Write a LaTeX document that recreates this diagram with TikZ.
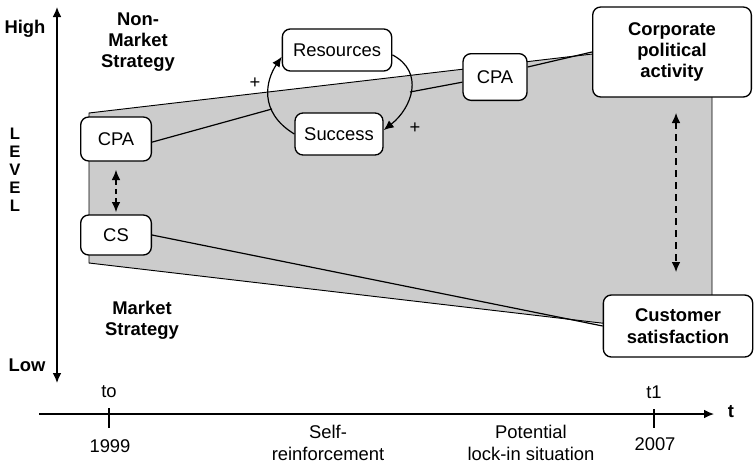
\documentclass[tikz,border=0pt]{standalone}
\usepackage{fontspec}
\setmainfont{Liberation Sans}
\usetikzlibrary{arrows.meta}

\begin{document}
\begin{tikzpicture}[x=0.75pt, y=-0.75pt, >={Latex[length=7.5pt,width=6.5pt]},
    box/.style={draw=black, line width=1pt, rounded corners=6pt, fill=white, align=center, inner sep=1pt, font=\fontsize{13.8}{16}\selectfont},
    axistext/.style={align=center, inner sep=0pt, font=\fontsize{13.8}{16}\selectfont},
    boldtext/.style={align=center, inner sep=0pt, font=\bfseries\fontsize{13.8}{16}\selectfont}]
        \useasboundingbox (0,0) rectangle (755,464);

        % Strategy band
        \draw[line width=0.7pt, fill=black!20] (89,113) -- (712,40) -- (712,336) -- (89,263) -- cycle;

        % Level axis
        \node[boldtext] (high) at (25,29) {High};
        \node[boldtext] (low) at (27,365) {Low};
        \node[boldtext, font=\bfseries\fontsize{12.5}{13.5}\selectfont] (level) at (15,170) {L\\E\\V\\E\\L};
        \coordinate (ytop) at (57,7);
        \coordinate (ybot) at (57,383);
        \draw[<->, line width=0.9pt] (ybot) -- (ytop);
        \node[boldtext] (nonmarket) at (138,42) {Non-\\Market\\Strategy};
        \node[boldtext] (market) at (142,320) {Market\\Strategy};

        % Time axis
        \coordinate (xstart) at (39,414);
        \coordinate (xend) at (714,414);
        \draw[->, line width=0.9pt] (xstart) -- (xend);
        \node[boldtext] (t) at (731,412) {t};
        \draw[line width=0.9pt] (109,408) -- (109,428);
        \draw[line width=0.9pt] (654,409) -- (654,428);
        \node[axistext] (t0) at (109,392) {to};
        \node[axistext] (t1) at (654,392) {t1};
        \node[axistext] (y0) at (110,446) {1999};
        \node[axistext] (y1) at (655,444) {2007};
        \node[axistext] (selfreinf) at (328,443) {Self-\\reinforcement};
        \node[axistext] (lockin) at (531,443) {Potential\\lock-in situation};

        % Boxes in 1999
        \node[box, minimum width=53pt, minimum height=33pt] (cpa0) at (116,139) {CPA};
        \node[box, minimum width=53pt, minimum height=30pt] (cs0) at (116,235) {CS};
        \draw[<->, dashed, dash pattern=on 4pt off 3pt, line width=0.8pt] (116,170) -- (116,212);

        % Self-reinforcing loop
        \node[box, minimum width=82pt, minimum height=31.5pt] (res) at (337,50) {Resources};
        \node[box, minimum width=66pt, minimum height=31.5pt] (suc) at (339,134) {Success};
        \draw[->, line width=0.9pt] (suc.west) .. controls (258,112) and (266,80) .. (res.187);
        \draw[->, line width=0.9pt] (res.355) .. controls (425,72) and (412,108) .. (suc.5);
        \node[axistext] (plus1) at (255,83) {+};
        \node[axistext] (plus2) at (415,128) {+};

        % Boxes in 2007
        \node[box, minimum width=48pt, minimum height=35pt] (cpa1) at (495,77) {CPA};
        \node[box, font=\bfseries\fontsize{13.8}{16}\selectfont, minimum width=119pt, minimum height=67.5pt] (cpa2) at (672,52) {Corporate\\political\\activity};
        \node[box, font=\bfseries\fontsize{13.8}{16}\selectfont, minimum width=112pt, minimum height=46.5pt] (cs1) at (678,326) {Customer\\satisfaction};
        \draw[<->, dashed, dash pattern=on 5pt off 4pt, line width=0.8pt] (676,113) -- (676,272);

        % Paths of CPA and CS
        \coordinate (loopl) at (272,109);
        \coordinate (loopr) at (410,92);
        \draw[line width=0.9pt] (cpa0.355) -- (loopl);
        \draw[line width=0.9pt] (loopr) -- (cpa1.189);
        \draw[line width=0.9pt] (cpa1.17) -- (cpa2.west);
        \draw[line width=0.9pt] (cs0.east) -- (cs1.west);
\end{tikzpicture}
\end{document}
